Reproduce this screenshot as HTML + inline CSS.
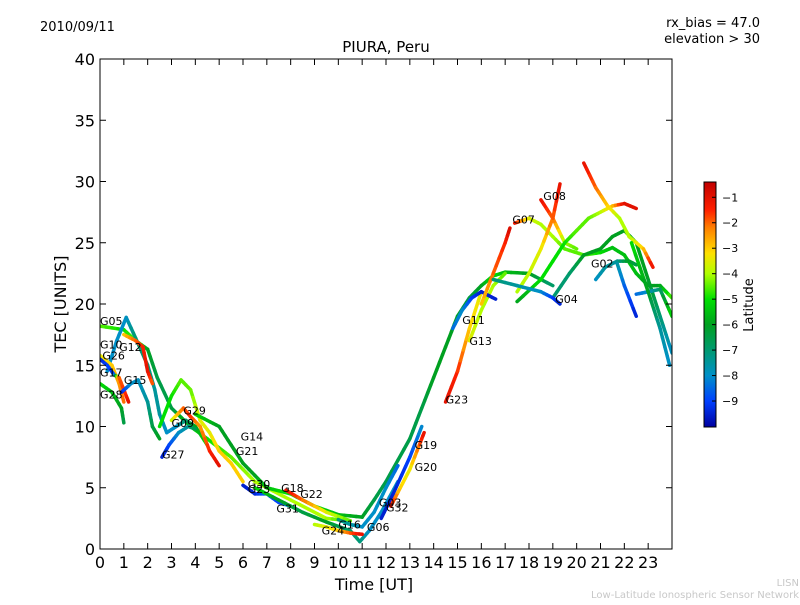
<!DOCTYPE html>
<html><head><meta charset="utf-8"><style>
body{margin:0;background:#fff;font-family:"Liberation Sans","DejaVu Sans",sans-serif}
svg text{font-family:"DejaVu Sans","Liberation Sans",sans-serif}
</style></head><body>
<svg id="chart" width="800" height="600" viewBox="0 0 800 600" xmlns="http://www.w3.org/2000/svg">
<defs>
<linearGradient id="jet" x1="0" y1="1" x2="0" y2="0"></linearGradient>
<clipPath id="plotclip"><rect x="100" y="59" width="572" height="490"/></clipPath>
</defs>
<text x="40" y="31" font-size="13">2010/09/11</text>
<text x="760" y="27" font-size="13" text-anchor="end">rx_bias = 47.0</text>
<text x="760" y="43" font-size="13" text-anchor="end">elevation &gt; 30</text>
<text x="386" y="52" font-size="15" text-anchor="middle">PIURA, Peru</text>
<g id="tracks" clip-path="url(#plotclip)"></g>
<g id="labels"></g>
<rect x="100" y="59" width="572" height="490" fill="none" stroke="#000" stroke-width="1"/>
<g id="axes"></g>
<text x="374" y="590" font-size="16" text-anchor="middle">Time [UT]</text>
<text transform="translate(66,304) rotate(-90)" font-size="16" text-anchor="middle">TEC [UNITS]</text>
<rect x="704" y="182" width="12" height="245" fill="url(#jet)" stroke="#000" stroke-width="1"/>
<g id="cbticks"></g>
<text transform="translate(753,305) rotate(-90)" font-size="13" text-anchor="middle">Latitude</text>
<text x="799" y="586" font-size="10" fill="#c8c8c8" text-anchor="end">LISN</text>
<text x="799" y="598" font-size="10" fill="#c8c8c8" text-anchor="end">Low-Latitude Ionospheric Sensor Network</text>
</svg>
<script>
const xTicks=[0,1,2,3,4,5,6,7,8,9,10,11,12,13,14,15,16,17,18,19,20,21,22,23];
const yTicks=[0,5,10,15,20,25,30,35,40];
const cbTicks=[-1,-2,-3,-4,-5,-6,-7,-8,-9];
// each track: [hour, tec, latitude]
const trackG05=[[0,18.2,-4.5],[1,17.9,-5],[1.5,17,-4.5],[2,16.3,-6],[2.4,14,-6.5],[3,11.5,-6.5],[3.8,10,-5.5],[4.5,9,-5],[5.5,7.5,-4.5],[6.5,5.5,-4],[8,4,-4],[9.5,2.5,-4],[10.5,2.3,-5]];
const trackG12=[[0.3,14.5,-8],[0.7,17,-8],[1.1,18.9,-8],[1.5,17.2,-7],[2,15,-7],[2.3,13,-7.5],[2.5,11,-7.5],[2.8,9.5,-8],[3.2,10,-8],[3.6,10.5,-7],[4,10,-6],[4.5,8.5,-5]];
const trackG10=[[0,15.8,-3.5],[0.5,15,-3],[0.8,13.5,-2.5],[1,12,-2]];
const trackG17=[[0,15.5,-9.5],[0.3,15,-9],[0.6,14.2,-9],[0.8,14,-2],[1.1,12.5,-1.5],[1.2,12,-1]];
const trackG28=[[0,13.5,-5],[0.5,12.8,-5.5],[0.9,11.5,-6],[1,10.3,-6.5]];
const trackG15=[[0.9,12.8,-9.5],[1.3,13.5,-8],[1.6,13.8,-8],[2,12,-7.5],[2.2,10,-6.5],[2.5,9,-6]];
const trackRed=[[1,17.5,-3],[1.5,17,-2],[1.8,16.5,-1.5],[2,14.5,-1],[2.2,13.5,-2]];
const trackG29=[[2.5,10,-5],[3,12.5,-5],[3.4,13.8,-4.5],[3.8,13,-4.5],[4.2,10.5,-3.5],[4.6,9.5,-3.5],[5,8,-3],[5.5,7,-3],[6,5.5,-3]];
const trackG09=[[3,10.5,-4],[3.5,11.5,-2],[3.8,10.8,-1.5],[4.2,10,-2.5],[4.6,8,-1.5],[5,6.8,-1]];
const trackG27=[[2.6,7.5,-9.5],[2.9,8.5,-9],[3.3,9.5,-8],[3.7,10,-7.5],[4,9.8,-6.5]];
const trackG14=[[4,11,-5],[4.5,10.5,-5.5],[5,10,-6],[5.5,8.5,-6],[6,7,-6],[6.5,6,-6],[7,5,-5.5],[8,4.5,-5],[9,3.5,-5],[10,2.8,-5.5],[11,2.6,-6],[11.5,4,-6.5],[12,5.5,-6.5],[13,9,-6.5],[13.5,11.5,-6.5],[14,14,-6],[14.5,16.5,-6],[15,19,-6],[15.5,20.5,-6.5],[16,21.5,-6],[16.5,22.3,-5],[17,22.6,-5.5],[18,22.5,-6],[19,21.5,-7]];
const trackG30=[[6,5.2,-9.5],[6.5,4.5,-9.5],[7,4.5,-8.5],[7.5,3.8,-9],[8,3.5,-8]];
const trackG31=[[6.5,5,-5],[7.5,4,-6],[8.5,3,-6.5],[9.5,2.2,-6],[10.5,1.5,-7],[10.9,0.6,-7],[11.3,1.5,-8],[11.8,3,-8],[12.5,5.5,-8]];
const trackG22=[[7.8,4.8,-1],[8.5,4,-2],[9.5,3,-3.5],[10.5,2.3,-4.5]];
const trackG24=[[9,2,-4],[9.5,1.8,-3.5],[10,1.5,-3],[10.5,1.3,-2],[11,1.2,-1]];
const trackG16=[[10,2.4,-7],[10.5,2,-7.5],[11,1.8,-8],[11.5,3,-8],[12,5,-8],[12.5,6.8,-8.5]];
const trackG03=[[11.8,2.5,-9.5],[12.3,4.5,-9.5],[13,7.5,-9],[13.5,10,-8]];
const trackG32=[[12.2,3.5,-1],[12.6,5,-3],[13,6.5,-3.5],[13.4,8.5,-2],[13.6,9.5,-1]];
const trackG23=[[14.5,12,-1],[15,14.5,-1.5],[15.5,18,-3],[16,21,-3.5]];
const trackG13=[[15.5,17,-3.5],[16,19.5,-4],[16.5,21.5,-4],[17,22.5,-4.5]];
const trackG11=[[14.8,18,-8.5],[15.2,19.5,-8],[15.6,20.5,-9],[16,21,-9.5],[16.6,20.4,-9.5]];
const trackRise=[[16,20,-3],[16.5,22.5,-2],[17,25,-1.5],[17.2,26.2,-0.8]];
const trackG07=[[17.4,26.6,-1],[18,27,-3.5],[18.5,26.5,-4],[19,25.5,-4],[19.5,24.5,-4.5],[20.3,24,-4.5],[21,24.2,-5],[21.5,24.6,-5.5],[22,24,-5.5],[22.5,22.5,-5.5],[23,21.5,-6],[23.5,21.5,-6],[24,20.5,-4.5]];
const trackG08a=[[18.5,28.5,-1],[19,27,-2],[19.5,25,-4],[20,24.5,-4.5]];
const trackG08b=[[17.5,21,-4],[18,22.5,-3.8],[18.5,24.5,-3.5],[19,27,-2],[19.3,29.8,-1]];
const trackGreen=[[17.5,20.2,-6],[18.5,22,-5],[19,23.5,-5],[19.5,25,-5],[20,26,-4.5],[20.5,27,-4.5],[21,27.5,-4],[21.5,28,-3],[22,28.2,-1],[22.5,27.8,-1]];
const trackG02=[[19,20.5,-7],[19.7,22.5,-7],[20.3,24,-6],[21,24.5,-6],[21.5,25.5,-6],[22,26,-6],[22.5,25,-6],[23,22,-6],[23.5,19,-7],[24,16,-8]];
const trackDown=[[20.3,31.5,-1],[20.8,29.5,-2],[21.3,28,-3],[21.8,27,-4],[22.2,25.5,-4],[22.8,24.5,-3],[23.2,23,-1]];
const trackTeal=[[20.8,22,-8],[21.2,23,-7.5],[21.7,23.5,-7.5],[22.2,23.5,-6],[22.5,23.2,-6.5]];
const trackBlue=[[21.7,23.3,-7.5],[22,21.5,-8.5],[22.5,19,-9.5]];
const trackG04=[[16.5,22,-7],[17.5,21.5,-7.5],[18.5,21,-8],[19,20.5,-9],[19.3,20,-9.5]];
const trackLate=[[22.5,20.8,-8.5],[23,21,-8],[23.5,21.2,-7],[24,19,-5]];
const trackEnd=[[22.3,25,-5],[23,21,-6],[23.5,18,-7.5],[23.9,15,-8]];
const tracks=[trackG05,trackG12,trackG10,trackG17,trackG28,trackG15,trackRed,trackG29,trackG09,trackG27,trackG14,trackG30,trackG31,trackG22,trackG24,trackG16,trackG03,trackG32,trackG23,trackG13,trackG11,trackRise,trackG07,trackG08a,trackG08b,trackGreen,trackG02,trackDown,trackTeal,trackBlue,trackG04,trackLate,trackEnd];
const labelNames=["G05","G10","G12","G26","G17","G15","G28","G29","G09","G27","G14","G21","G30","G25","G18","G22","G31","G24","G16","G06","G03","G32","G19","G20","G23","G11","G13","G07","G08","G04","G02"];
const labelHours=[0,0,0.8,0.1,0,1,0,3.5,3,2.6,5.9,5.7,6.2,6.2,7.6,8.4,7.4,9.3,10,11.2,11.7,12,13.2,13.2,14.5,15.2,15.5,17.3,18.6,19.1,20.6];
const labelTecs=[18.6,16.7,16.5,15.8,14.4,13.8,12.6,11.3,10.3,7.7,9.2,8,5.3,4.9,5,4.5,3.3,1.5,2,1.8,3.8,3.4,8.5,6.7,12.2,18.7,17,26.9,28.8,20.4,23.3];
const NS='http://www.w3.org/2000/svg';
const x0=100,x1=672,y0=549,y1=59;
function xs(h){return x0+(h/24)*(x1-x0);}
function ys(v){return y0-(v/40)*(y0-y1);}
const latMin=-10.02,latMax=-0.4;
function cbY(l){return 427-(l-latMin)/(latMax-latMin)*245;}
const cmapStops=[[-10.02,[0,0,160]],[-9,[0,64,255]],[-8,[0,144,200]],[-7,[0,154,112]],[-6,[0,160,32]],[-5,[0,224,0]],[-4,[176,255,0]],[-3.2,[255,224,0]],[-2.2,[255,128,0]],[-1.5,[255,32,0]],[-0.4,[192,0,0]]];
function jet(l){
 if(l<=cmapStops[0][0])return 'rgb('+cmapStops[0][1].join(',')+')';
 for(let i=0;i<cmapStops.length-1;i++){const a=cmapStops[i],b=cmapStops[i+1];
  if(l<=b[0]){const f=(l-a[0])/(b[0]-a[0]);return 'rgb('+a[1].map((c,j)=>Math.round(c+(b[1][j]-c)*f)).join(',')+')';}}
 return 'rgb('+cmapStops[cmapStops.length-1][1].join(',')+')';}
const grad=document.getElementById('jet');
cmapStops.forEach(s=>{const st=document.createElementNS(NS,'stop');st.setAttribute('offset',(s[0]-latMin)/(latMax-latMin));st.setAttribute('stop-color','rgb('+s[1].join(',')+')');grad.appendChild(st);});
const tg=document.getElementById('tracks');
tracks.forEach((tr,ti)=>{
 const g=document.createElementNS(NS,'g');
 
 
 for(let i=0;i<tr.length-1;i++){
  const a=tr[i],b=tr[i+1];
  for(let k=0;k<4;k++){
   const f0=k/4,f1=(k+1)/4;
   const ln=document.createElementNS(NS,'line');
   ln.setAttribute('x1',xs(a[0]+(b[0]-a[0])*f0));ln.setAttribute('y1',ys(a[1]+(b[1]-a[1])*f0));
   ln.setAttribute('x2',xs(a[0]+(b[0]-a[0])*f1));ln.setAttribute('y2',ys(a[1]+(b[1]-a[1])*f1));
   ln.setAttribute('stroke',jet(a[2]+(b[2]-a[2])*(f0+f1)/2));
   ln.setAttribute('stroke-width','3.5');ln.setAttribute('stroke-linecap','round');
   
   
   g.appendChild(ln);
  }
 }
 tg.appendChild(g);
});
const lg=document.getElementById('labels');
labelNames.forEach((n,i)=>{
 const t=document.createElementNS(NS,'text');
 t.setAttribute('x',xs(labelHours[i]));t.setAttribute('y',ys(labelTecs[i])+4);
 t.setAttribute('font-size','11');t.textContent=n;
 
 
 lg.appendChild(t);
});
const ax=document.getElementById('axes');
function mk(tag,attrs,txt){const e=document.createElementNS(NS,tag);for(const k in attrs)e.setAttribute(k,attrs[k]);if(txt!==undefined)e.textContent=txt;return e;}
xTicks.forEach(h=>{
 const x=xs(h);
 const t1=mk('line',{x1:x,y1:y0,x2:x,y2:y0-6,stroke:'#000'});
 
 
 ax.appendChild(t1);
 const t2=mk('line',{x1:x,y1:y1,x2:x,y2:y1+6,stroke:'#000'});
 
 
 ax.appendChild(t2);
 const l=mk('text',{x:x,y:568,'font-size':'16','text-anchor':'middle'},String(h));
 
 
 ax.appendChild(l);
});
yTicks.forEach(v=>{
 const y=ys(v);
 const t1=mk('line',{x1:x0,y1:y,x2:x0+6,y2:y,stroke:'#000'});
 
 
 ax.appendChild(t1);
 const t2=mk('line',{x1:x1,y1:y,x2:x1-6,y2:y,stroke:'#000'});
 
 
 ax.appendChild(t2);
 const l=mk('text',{x:95,y:y+6,'font-size':'16','text-anchor':'end'},String(v));
 
 
 ax.appendChild(l);
});
const cg=document.getElementById('cbticks');
cbTicks.forEach(v=>{
 const y=cbY(v);
 const t=mk('line',{x1:712,y1:y,x2:716,y2:y,stroke:'#000'});
 
 
 cg.appendChild(t);
 const l=mk('text',{x:722,y:y+4,'font-size':'11'},'\u2212'+String(-v));
 
 
 cg.appendChild(l);
});
</script>
</body></html>
